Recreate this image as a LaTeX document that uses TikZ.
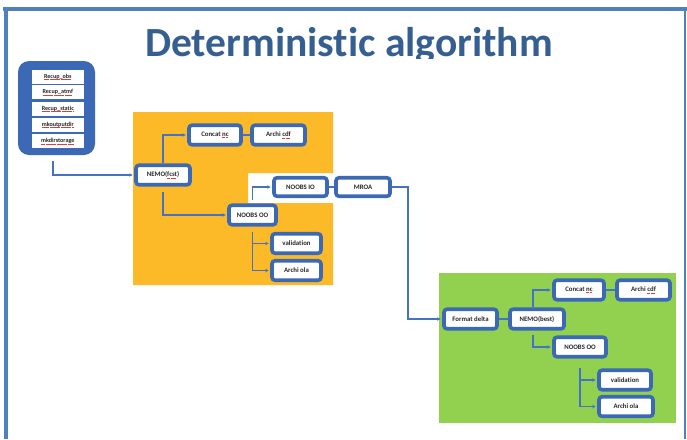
\documentclass[tikz,border=0pt]{standalone}
\usepackage{fontspec}
\setmainfont{Carlito}[Ligatures=NoCommon]
\usetikzlibrary{arrows.meta}
\definecolor{boxblue}{RGB}{59,105,182}
\definecolor{connblue}{RGB}{68,114,196}
\definecolor{framecol}{RGB}{79,129,189}
\definecolor{titlecol}{RGB}{54,95,145}
\definecolor{orangebg}{RGB}{252,186,40}
\definecolor{greenbg}{RGB}{146,208,80}
\definecolor{txt}{RGB}{40,40,40}
\definecolor{squig}{RGB}{225,60,60}
% red dotted underline under flagged words
\newsavebox\flagbox
\newcommand\flagged[1]{\sbox\flagbox{#1}\leavevmode
  \rlap{\textcolor{squig}{\leaders\hbox{\rule[-1.3pt]{0.6pt}{0.45pt}\kern0.5pt}\hskip\wd\flagbox}}\usebox\flagbox}
\tikzset{
  x=1pt, y=-1pt,
  stepbox/.style={draw=boxblue, fill=white, line width=3.6pt, rounded corners=3pt,
    minimum width=52pt, minimum height=19.5pt, inner sep=0pt,
    font=\fontsize{6.8}{8}\selectfont\bfseries, text=txt},
  listitem/.style={fill=white, minimum width=52pt, minimum height=14pt, inner sep=0pt,
    font=\fontsize{6.1}{7}\selectfont\bfseries, text=txt},
  conn/.style={draw=connblue, line width=1.2pt, -{Stealth[length=3.5pt,width=3.5pt]}, shorten >=1.5pt},
  link/.style={draw=connblue, line width=1.2pt},
}
\begin{document}
\begin{tikzpicture}
\useasboundingbox (0,0) rectangle (687,439);

% slide frame
\draw[framecol, line width=3.5pt] (3,8.75) -- (687,8.75);
\draw[framecol, line width=4pt] (5.5,7) -- (5.5,439);
\draw[framecol, line width=1.8pt] (685,8) -- (685,439);

% title, cut just below its baseline
\begin{scope}
  \clip (0,0) rectangle (687,58.8);
  \node[anchor=base, text=titlecol, font=\fontsize{41.5}{46}\selectfont\bfseries] (title) at (349,56.7) {Deterministic algorithm};
\end{scope}

% coloured areas
\fill[orangebg] (133,112) -- (333,112) -- (333,173) -- (248,173) -- (248,203) -- (333,203) -- (333,285) -- (133,285) -- cycle;
\fill[greenbg] (439,273) rectangle (676,423);

% preparation steps
\node[fill=boxblue, rounded corners=11pt, minimum width=77pt, minimum height=94pt] (stack) at (56.5,108) {};
\node[listitem] (l1) at (57.8,76.7) {\flagged{Recup\_obs}};
\node[listitem] (l2) at (57.8,92.2) {\flagged{Recup\_atmf}};
\node[listitem] (l3) at (57.8,108.7) {\flagged{Recup\_static}};
\node[listitem] (l4) at (57.8,124.8) {\flagged{mkoutputdir}};
\node[listitem] (l5) at (57.8,141.2) {\flagged{mkdirstorage}};

% forecast chain
\node[stepbox, minimum width=54pt] (nemof) at (163,175) {NEMO(\flagged{fcst})};
\node[stepbox] (concatA) at (215,135) {Concat \flagged{nc}};
\node[stepbox, minimum width=53pt] (archicA) at (278.5,135) {Archi \flagged{cdf}};
\node[stepbox, minimum width=53pt, minimum height=18.5pt] (noobsio) at (300.5,187) {NOOBS IO};
\node[stepbox, minimum width=54pt, minimum height=18.5pt] (mroa) at (363,187) {MROA};
\node[stepbox, minimum width=47pt] (noobsooA) at (252.5,215) {NOOBS OO};
\node[stepbox, minimum width=49pt] (validA) at (296.5,243.5) {validation};
\node[stepbox, minimum width=49pt] (archiolaA) at (296.5,270.5) {Archi ola};

% best-estimate chain
\node[stepbox, minimum width=53pt] (fdelta) at (470.5,319) {Format delta};
\node[stepbox, minimum width=54pt] (nemob) at (537,319) {NEMO(best)};
\node[stepbox, minimum width=50pt] (concatB) at (579,290) {Concat \flagged{nc}};
\node[stepbox, minimum width=53pt] (archicB) at (643.5,290) {Archi \flagged{cdf}};
\node[stepbox] (noobsooB) at (580,347) {NOOBS OO};
\node[stepbox] (validB) at (625,380) {validation};
\node[stepbox, minimum width=54pt] (archiolaB) at (626,406.5) {Archi ola};

% connectors
\coordinate (s0) at (53,161);
\draw[conn] (s0) |- (nemof.west);
\draw[conn] (nemof.north) |- (concatA.west);
\draw[link] (concatA) -- (archicA);
\draw[conn, shorten <=5pt] (nemof.south) |- (noobsooA.west);
\draw[conn, shorten <=3pt] (noobsooA.north) |- (noobsio.west);
\draw[link] (noobsio) -- (mroa);
\draw[conn, shorten <=5pt] (noobsooA.south) |- (validA.west);
\draw[conn, shorten <=5pt] (noobsooA.south) |- (archiolaA.west);
\coordinate (bend) at (408,187);
\draw[conn] (mroa.east) -- (bend) |- (fdelta.west);
\draw[link] (fdelta) -- (nemob);
\draw[conn] ([xshift=-4pt]nemob.north) |- (concatB.west);
\draw[link] (concatB) -- (archicB);
\draw[conn, shorten <=4pt] ([xshift=-4pt]nemob.south) |- (noobsooB.west);
\draw[conn, shorten <=9pt] (noobsooB.south) |- (validB.west);
\draw[conn, shorten <=9pt] (noobsooB.south) |- (archiolaB.west);
\end{tikzpicture}
\end{document}
